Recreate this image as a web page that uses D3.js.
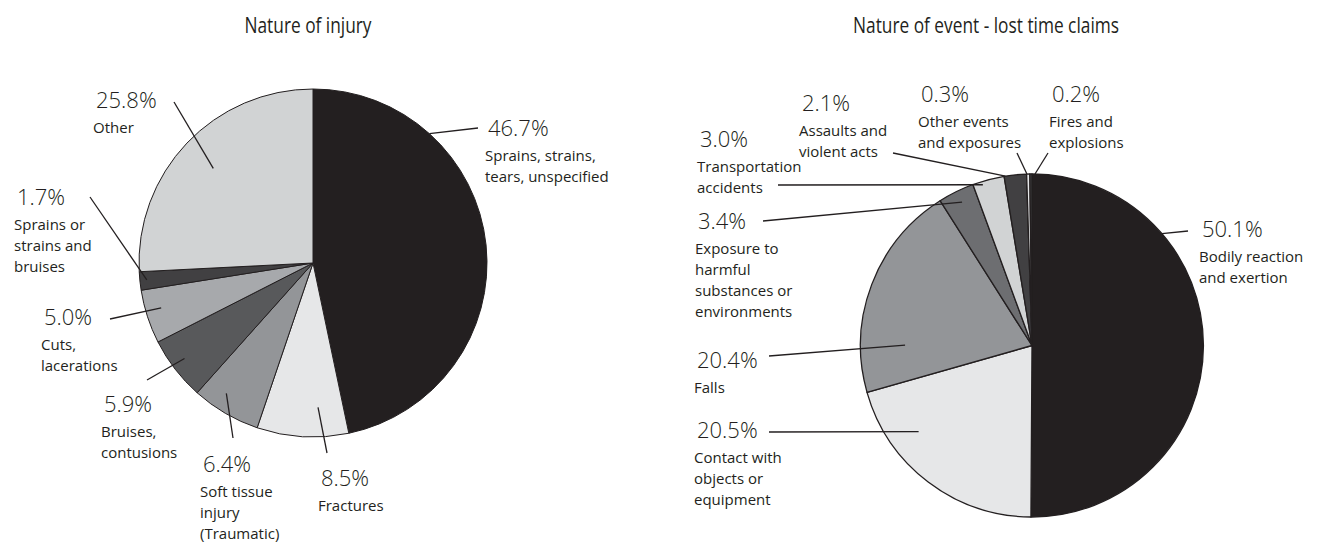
<!DOCTYPE html>
<html>
<head>
<meta charset="utf-8">
<script src="https://cdn.jsdelivr.net/npm/d3@7"></script>
<style>
  body { margin: 0; background: #fff; }
  svg { display: block; }
</style>
</head>
<body>
<svg id="chart" width="1317" height="542"></svg>
<script>
// ---- data ----
const injuryTitle = "Nature of injury";
const injuryCategories = [
  ["Sprains, strains,", "tears, unspecified"],
  ["Fractures"],
  ["Soft tissue", "injury", "(Traumatic)"],
  ["Bruises,", "contusions"],
  ["Cuts,", "lacerations"],
  ["Sprains or", "strains and", "bruises"],
  ["Other"]
];
const injuryValues = [46.7, 8.5, 6.4, 5.9, 5.0, 1.7, 25.8];

const eventTitle = "Nature of event - lost time claims";
const eventCategories = [
  ["Bodily reaction", "and exertion"],
  ["Contact with", "objects or", "equipment"],
  ["Falls"],
  ["Exposure to", "harmful", "substances or", "environments"],
  ["Transportation", "accidents"],
  ["Assaults and", "violent acts"],
  ["Other events", "and exposures"],
  ["Fires and", "explosions"]
];
const eventValues = [50.1, 20.5, 20.4, 3.4, 3.0, 2.1, 0.3, 0.2];

// ---- styles ----
const injuryColors = ["#231f20", "#e6e7e8", "#939598", "#58595b", "#a7a9ac", "#414042", "#d1d3d4"];
const eventColors  = ["#231f20", "#e6e7e8", "#939598", "#6d6e71", "#d1d3d4", "#414042", "#e6e7e8", "#414042"];

// ---- label layout: leader start (angle in degrees clockwise from 12 o'clock,
// radius as a fraction of the pie radius), leader end, label anchor ----
const injuryLayout = [
  { a: 42,    rf: 1.00, ex: 478, ey: 128, tx: 485, ty: 136 },
  { a: 178,   rf: 0.83, ex: 327, ey: 453, tx: 318, ty: 486 },
  { a: 213.6, rf: 0.90, ex: 233, ey: 438, tx: 200, ty: 472 },
  { a: 233.4, rf: 0.92, ex: 147, ey: 380, tx: 101, ty: 412 },
  { a: 253.5, rf: 0.91, ex: 110, ey: 319, tx: 41,  ty: 325 },
  { a: 264.2, rf: 0.96, ex: 90,  ey: 197, tx: 14,  ty: 205 },
  { a: 313.5, rf: 0.79, ex: 174, ey: 102, tx: 93,  ty: 108 }
];
const eventLayout = [
  { a: 49.3,  rf: 1.00, ex: 1188, ey: 231, tx: 1199, ty: 237 },
  { a: 232.8, rf: 0.83, ex: 769,  ey: 432, tx: 694,  ty: 438 },
  { a: 270.2, rf: 0.74, ex: 769,  ey: 356, tx: 694,  ty: 368 },
  { a: 334,   rf: 0.93, ex: 763,  ey: 221, tx: 695,  ty: 229 },
  { a: 343,   rf: 0.98, ex: 778,  ey: 185, tx: 697,  ty: 147 },
  { a: 351.1, rf: 1.00, ex: 893,  ey: 153, tx: 799,  ty: 111 },
  { a: 358.3, rf: 1.00, ex: 1017, ey: 153, tx: 918,  ty: 102 },
  { a: 1.0,   rf: 1.00, ex: 1048, ey: 153, tx: 1049, ty: 102 }
];

const ink = "#231f20";
const font = "'Open Sans', 'Liberation Sans', sans-serif";
const fmt = v => d3.format(".1f")(v) + "%";

const svg = d3.select("#chart");

function drawPie(cfg) {
  const g = svg.append("g");

  // title, condensed to its set width
  g.append("text")
    .attr("x", cfg.titleX)
    .attr("y", 33)
    .attr("text-anchor", "middle")
    .attr("textLength", cfg.titleWidth)
    .attr("lengthAdjust", "spacingAndGlyphs")
    .style("font-family", font)
    .style("font-size", "22px")
    .style("fill", ink)
    .text(cfg.title);

  const pie = d3.pie().sort(null).value(d => d)
    .startAngle(0).endAngle(2 * Math.PI);
  const arc = d3.arc().innerRadius(0).outerRadius(cfg.r);
  const arcs = pie(cfg.values);

  const pg = g.append("g").attr("transform", `translate(${cfg.cx},${cfg.cy})`);
  pg.selectAll("path")
    .data(arcs)
    .join("path")
    .attr("d", arc)
    .attr("fill", (d, i) => cfg.colors[i])
    .attr("stroke", ink)
    .attr("stroke-width", cfg.strokeW)
    .attr("stroke-linejoin", "round");

  // leader lines
  g.selectAll("line.leader")
    .data(cfg.layout)
    .join("line")
    .attr("class", "leader")
    .attr("x1", d => cfg.cx + Math.sin(d.a * Math.PI / 180) * cfg.r * d.rf)
    .attr("y1", d => cfg.cy - Math.cos(d.a * Math.PI / 180) * cfg.r * d.rf)
    .attr("x2", d => d.ex)
    .attr("y2", d => d.ey)
    .attr("stroke", ink)
    .attr("stroke-width", 1.3);

  // labels: value on top, category name below
  const lab = g.selectAll("g.label")
    .data(cfg.layout)
    .join("g")
    .attr("class", "label");

  lab.append("text")
    .attr("x", d => d.tx + 3)
    .attr("y", d => d.ty)
    .style("font-family", font)
    .style("font-size", "22px")
    .style("font-weight", 300)
    .style("fill", ink)
    .text((d, i) => fmt(cfg.values[i]));

  lab.append("text")
    .attr("y", d => d.ty + 25)
    .style("font-family", font)
    .style("font-size", "15px")
    .style("fill", ink)
    .selectAll("tspan")
    .data((d, i) => cfg.categories[i].map(t => ({ t, x: d.tx })))
    .join("tspan")
    .attr("x", d => d.x)
    .attr("dy", (d, j) => j === 0 ? 0 : 21)
    .text(d => d.t);
}

drawPie({
  title: injuryTitle, titleX: 308, titleWidth: 127,
  cx: 313, cy: 263, r: 174, strokeW: 1,
  values: injuryValues, categories: injuryCategories,
  colors: injuryColors, layout: injuryLayout
});

drawPie({
  title: eventTitle, titleX: 986, titleWidth: 266,
  cx: 1032, cy: 345.5, r: 171.5, strokeW: 1.3,
  values: eventValues, categories: eventCategories,
  colors: eventColors, layout: eventLayout
});
</script>
</body>
</html>
